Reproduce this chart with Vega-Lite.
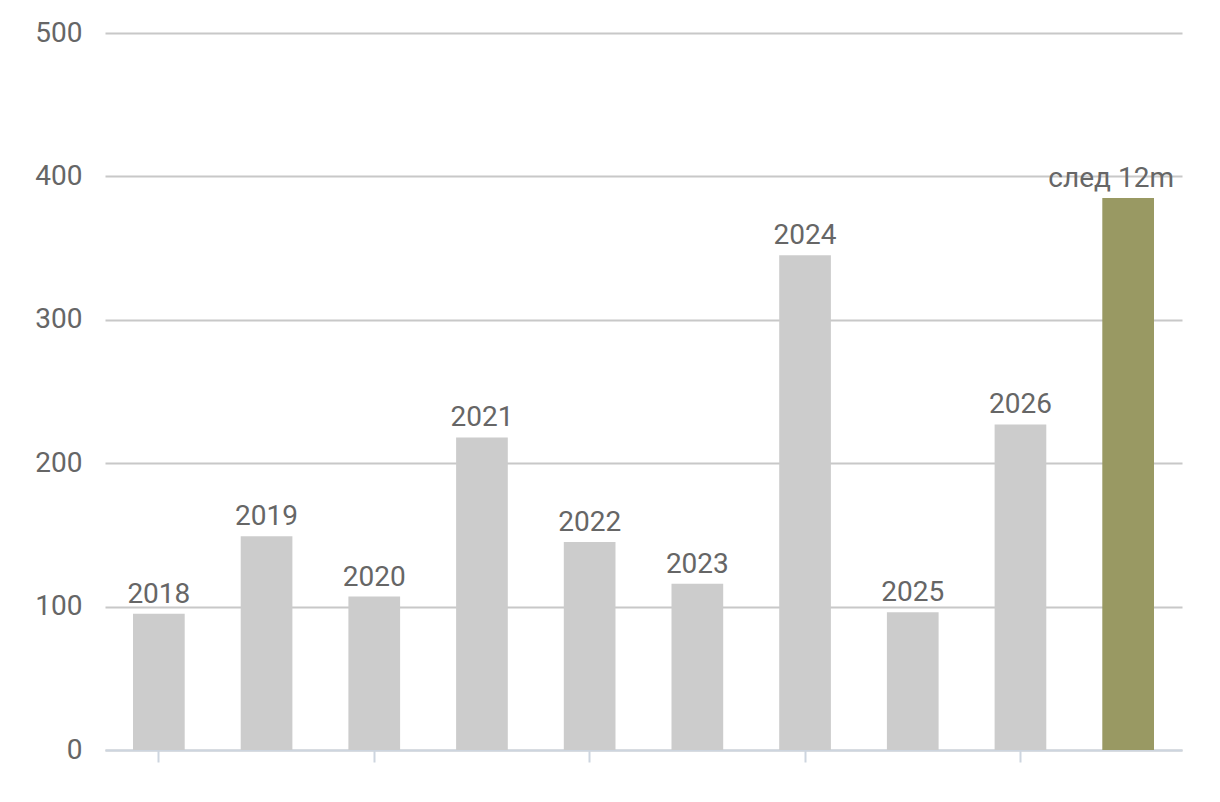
{
  "$schema": "https://vega.github.io/schema/vega-lite/v6.json",
  "width": 1077,
  "height": 717,
  "autosize": "none",
  "padding": {"left": 105, "top": 33, "right": 38, "bottom": 52},
  "background": "white",
  "data": {
    "values": [
      {"label": "2018", "value": 95, "kind": "past"},
      {"label": "2019", "value": 149, "kind": "past"},
      {"label": "2020", "value": 107, "kind": "past"},
      {"label": "2021", "value": 218, "kind": "past"},
      {"label": "2022", "value": 145, "kind": "past"},
      {"label": "2023", "value": 116, "kind": "past"},
      {"label": "2024", "value": 345, "kind": "past"},
      {"label": "2025", "value": 96, "kind": "past"},
      {"label": "2026", "value": 227, "kind": "past"},
      {"label": "след 12m", "value": 385, "kind": "next"}
    ]
  },
  "encoding": {
    "x": {
      "field": "label",
      "type": "nominal",
      "sort": null,
      "scale": {"paddingInner": 0.52, "paddingOuter": 0.26},
      "axis": {
        "title": null,
        "labels": false,
        "values": ["2018", "2020", "2022", "2024", "2026"],
        "ticks": true,
        "tickSize": 12,
        "tickWidth": 2,
        "tickColor": "#cdd5df",
        "domainColor": "#cdd5df",
        "domainWidth": 2,
        "grid": false
      }
    },
    "y": {
      "field": "value",
      "type": "quantitative",
      "scale": {"domain": [0, 500], "nice": false},
      "axis": {
        "title": null,
        "values": [0, 100, 200, 300, 400, 500],
        "domain": false,
        "ticks": false,
        "grid": true,
        "gridColor": "#c8c8c8",
        "gridWidth": 2,
        "labelFont": "Roboto",
        "labelFontSize": 28,
        "labelColor": "#666666",
        "labelPadding": 23
      }
    }
  },
  "layer": [
    {
      "mark": {"type": "bar"},
      "encoding": {
        "color": {
          "field": "kind",
          "type": "nominal",
          "scale": {"domain": ["past", "next"], "range": ["#cccccc", "#999963"]},
          "legend": null
        }
      }
    },
    {
      "transform": [{"filter": "datum.kind === 'past'"}],
      "mark": {
        "type": "text",
        "baseline": "alphabetic",
        "align": "center",
        "dy": -11,
        "font": "Roboto",
        "fontSize": 28,
        "color": "#666666"
      },
      "encoding": {
        "text": {"field": "label", "type": "nominal"}
      }
    },
    {
      "transform": [{"filter": "datum.kind === 'next'"}],
      "mark": {
        "type": "text",
        "baseline": "alphabetic",
        "align": "center",
        "dy": -11,
        "dx": -17,
        "font": "Roboto",
        "fontSize": 28,
        "color": "#666666"
      },
      "encoding": {
        "text": {"field": "label", "type": "nominal"}
      }
    }
  ],
  "config": {
    "view": {"stroke": null}
  }
}
